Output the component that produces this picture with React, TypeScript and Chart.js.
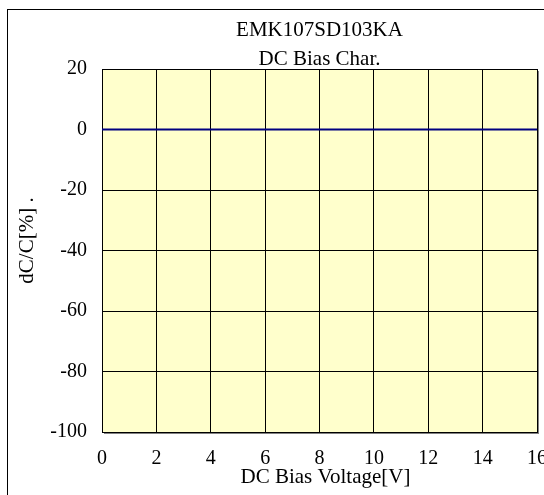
import React, { useEffect, useRef } from "react";
import { Chart, registerables } from "chart.js";

Chart.register(...registerables);

// ---- data ----
const chartTitle = ["EMK107SD103KA", "DC Bias Char."];
const xAxisTitle = "DC Bias Voltage[V]";
const yAxisTitle = "dC/C[%] .";
const biasVoltage = [0, 16];
const capacitanceChange = [0, 0];
const xMin = 0;
const xMax = 16;
const xStep = 2;
const yMin = -100;
const yMax = 20;
const yStep = 20;

const FONT = '"Liberation Serif", "Times New Roman", serif';

const decoPlugin = {
  id: "deco",
  beforeDraw(chart: any) {
    const { ctx, width, height, chartArea } = chart;
    const { left, top, right, bottom } = chartArea;
    ctx.save();
    ctx.fillStyle = "#ffffff";
    ctx.fillRect(0, 0, width, height);
    ctx.strokeStyle = "#000000";
    ctx.lineWidth = 1;
    ctx.strokeRect(7.5, 9.5, width + 50, height + 50);
    ctx.fillStyle = "#808080";
    ctx.fillRect(left + 2, top + 2, right - left, bottom - top);
    ctx.fillStyle = "#FFFFCC";
    ctx.fillRect(left, top, right - left, bottom - top);
    ctx.restore();
  },
  afterDraw(chart: any) {
    const { ctx, chartArea } = chart;
    const { left, top, right, bottom } = chartArea;
    ctx.save();
    ctx.fillStyle = "#000";
    ctx.font = `21px ${FONT}`;
    ctx.textAlign = "center";
    ctx.textBaseline = "alphabetic";
    // x-axis title
    ctx.fillText(xAxisTitle, (left + right) / 2 + 6, bottom + 51);
    // y-axis title
    ctx.translate(33, (top + bottom) / 2 - 10);
    ctx.rotate(-Math.PI / 2);
    ctx.fillText(yAxisTitle, 0, 0);
    ctx.restore();
  },
};

export default function App() {
  const ref = useRef<HTMLCanvasElement | null>(null);
  useEffect(() => {
    if (!ref.current) return;
    const chart = new Chart(ref.current, {
      type: "scatter",
      data: {
        datasets: [
          {
            data: biasVoltage.map((x, i) => ({ x, y: capacitanceChange[i] })),
            showLine: true,
            borderColor: "#000080",
            borderWidth: 2,
            pointRadius: 0,
            fill: false,
          },
        ],
      },
      options: {
        animation: false,
        responsive: false,
        devicePixelRatio: 1,
        layout: { padding: { top: 0, left: 0, right: 7, bottom: 0 } },
        plugins: {
          legend: { display: false },
          tooltip: { enabled: false },
          title: {
            display: true,
            text: chartTitle,
            fullSize: false,
            color: "#000",
            font: { family: FONT, size: 21, weight: "normal", lineHeight: 29 / 21 },
            padding: { top: 16.4, bottom: -5.4 },
          },
        },
        scales: {
          x: {
            type: "linear",
            min: xMin,
            max: xMax,
            ticks: {
              stepSize: xStep,
              color: "#000",
              font: { family: FONT, size: 20 },
              padding: 15,
              maxRotation: 0,
            },
            grid: { color: "#000", lineWidth: 1, drawTicks: false },
            border: { display: true, color: "#000", width: 1 },
            title: { display: false },
            afterFit(scale: any) {
              scale.height = 63;
              scale.paddingLeft = 0;
              scale.paddingRight = 0;
            },
          },
          y: {
            type: "linear",
            min: yMin,
            max: yMax,
            ticks: {
              stepSize: yStep,
              color: "#000",
              font: { family: FONT, size: 20 },
              padding: 15,
            },
            grid: { color: "#000", lineWidth: 1, drawTicks: false },
            border: { display: true, color: "#000", width: 1 },
            title: { display: false },
            afterFit(scale: any) {
              scale.width = 102;
              scale.paddingTop = 0;
              scale.paddingBottom = 0;
            },
          },
        },
      },
      plugins: [decoPlugin],
    } as any);
    return () => chart.destroy();
  }, []);
  return (
    <div style={{ position: "absolute", left: 0, top: 0, width: 544, height: 495 }}>
      <canvas ref={ref} width={544} height={495} style={{ display: "block" }} />
    </div>
  );
}
